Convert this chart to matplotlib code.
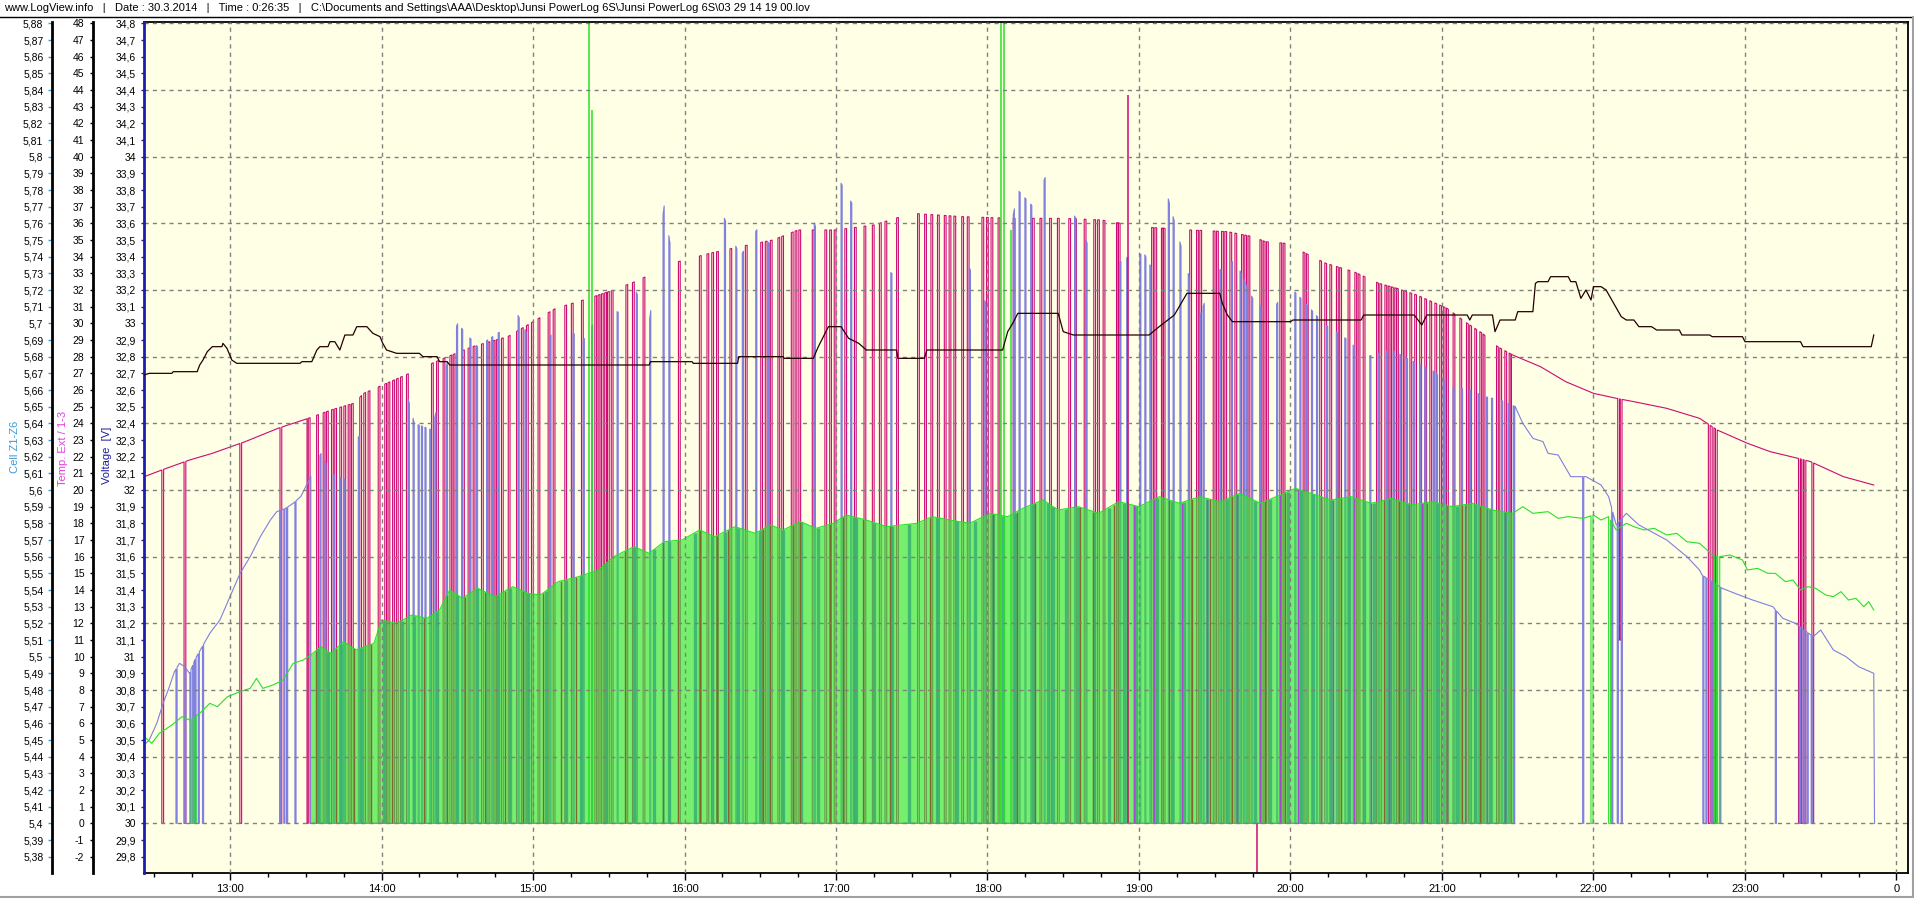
import numpy as np
import matplotlib
matplotlib.use('Agg')
import matplotlib.pyplot as plt
from matplotlib.ticker import MultipleLocator, FuncFormatter
from matplotlib.lines import Line2D

plt.rcParams['font.family'] = ['Liberation Sans', 'DejaVu Sans']

title = ('www.LogView.info   |   Date : 30.3.2014   |   Time : 0:26:35   |   '
         'C:\\Documents and Settings\\AAA\\Desktop\\Junsi PowerLog 6S\\Junsi PowerLog 6S\\03 29 14 19 00.lov')

# all times are minutes after 12:00
# pack voltage [V]
volt = [(26, 32.69), (28, 32.70), (37, 32.70), (37.5, 32.71), (47, 32.71), (48, 32.75), (49.3, 32.78),
        (51, 32.83), (53, 32.86), (56.8, 32.86), (57.2, 32.88), (58.8, 32.85), (60.7, 32.78), (62.7, 32.76),
        (87.7, 32.76), (88.5, 32.77), (92.4, 32.77), (94.4, 32.84), (95.6, 32.86), (98.8, 32.86),
        (99.6, 32.89), (101.5, 32.89), (103.5, 32.84), (105.5, 32.93), (108.7, 32.93), (110.2, 32.98),
        (114.2, 32.98), (116.6, 32.94), (119.4, 32.92), (120.5, 32.88), (122, 32.84), (126, 32.82),
        (135, 32.82), (136.4, 32.80), (142, 32.80), (143, 32.77), (146, 32.77), (147, 32.75), (226, 32.75),
        (226.5, 32.77), (243, 32.77), (243.5, 32.76), (261, 32.76), (261.5, 32.80), (279, 32.80),
        (279.5, 32.79), (291, 32.79), (293, 32.86), (297, 32.98), (302, 32.98), (305, 32.91), (309, 32.88),
        (312, 32.84), (324, 32.84), (324.5, 32.79), (335, 32.79), (336, 32.84), (366, 32.84), (368, 32.95),
        (370, 33.0), (372, 33.06), (388, 33.06), (390, 32.95), (394, 32.93), (424, 32.93), (428, 32.98),
        (434, 33.05), (439, 33.18), (452, 33.18), (453, 33.12), (455, 33.05), (457, 33.01), (480, 33.01),
        (481, 33.02), (508, 33.02), (509, 33.05), (529, 33.05), (532, 32.99), (534, 33.05), (550, 33.05),
        (551, 33.02), (552, 33.05), (560, 33.05), (561, 32.95), (563, 33.02), (569, 33.02), (570, 33.07),
        (576, 33.07), (577, 33.24), (578, 33.25), (582, 33.25), (583, 33.28), (590, 33.28), (591, 33.25),
        (593, 33.25), (595, 33.15), (597, 33.2), (599, 33.14), (600, 33.22), (603, 33.22), (605, 33.2),
        (608, 33.12), (611, 33.04), (613, 33.02), (616, 33.02), (618, 32.98), (623, 32.98), (625, 32.96),
        (634, 32.96), (635, 32.93), (646, 32.93), (647, 32.92), (659, 32.92), (660, 32.89), (682, 32.89),
        (683, 32.86), (710, 32.86), (711, 32.93)]

# Temp. Ext (magenta) [°C]
mag_env = [(26, 20.8), (33, 21.2), (44, 21.8), (53, 22.2), (66, 22.9), (79, 23.7), (85, 24.0), (91, 24.3),
           (100, 24.8), (109, 25.2), (113, 25.8), (125, 26.6), (143, 27.8), (156, 28.6), (170, 29.2),
           (189, 30.9), (200, 31.4), (212, 32.0), (222, 32.6), (235, 33.6), (250, 34.2), (262, 34.6),
           (275, 35.0), (285, 35.6), (300, 35.6), (315, 35.9), (330, 36.6), (350, 36.4), (370, 36.3),
           (390, 36.3), (405, 36.2), (420, 35.8), (440, 35.6), (455, 35.5), (465, 35.2), (470, 34.9),
           (478, 34.8), (486, 34.2), (494, 33.6), (505, 33.1), (515, 32.4), (522, 32.1), (530, 31.7),
           (542, 30.9), (550, 30.0), (556, 29.4), (562, 28.6), (568, 28.1), (579, 27.4), (589, 26.5),
           (600, 25.8), (609, 25.5), (616, 25.3), (629, 24.9), (642, 24.3), (649, 23.6), (661, 22.8),
           (670, 22.3), (681, 21.9), (686, 21.7), (699, 20.8), (711, 20.3)]
mag_span = (90.5, 567.5)
mag_spikes = [91.0, 94.3, 96.9, 98.2, 100.2, 101.5, 103.5, 105.1, 106.8, 108.1, 111.4, 113.0, 114.7, 118.7,
              121.3, 122.6, 124.4, 125.9, 127.5, 129.9, 139.8, 141.8, 144.4, 147.1, 148.4, 152.1, 154.3,
              156.3, 159.6, 162.2, 164.2, 165.5, 167.5, 170.2, 173.5, 175.4, 177.4, 179.4, 182.0, 186.0,
              188.0, 192.6, 195.2, 199.2, 204.5, 205.8, 207.1, 208.4, 209.5, 211.0, 216.8, 219.4, 223.6,
              237.6, 245.9, 248.9, 250.8, 252.7, 258.0, 264.1, 270.2, 272.0, 274.0, 277.0, 278.5, 282.3,
              283.8, 285.3, 290.6, 295.6, 297.5, 299.3, 303.5, 307.3, 311.1, 314.4, 317.2, 319.4, 324.0,
              332.3, 335.1, 337.6, 340.2, 342.9, 344.8, 346.7, 349.8, 352.0, 357.8, 359.6, 361.4, 364.2,
              370.2, 377.8, 380.8, 384.6, 387.7, 392.2, 394.5, 398.3, 402.1, 403.6, 405.8, 411.1, 411.8,
              425.0, 426.3, 428.9, 429.6, 440.1, 442.8, 444.1, 449.4, 450.7, 452.7, 454.0, 456.0, 458.0,
              460.6, 461.9, 463.2, 467.9, 469.2, 470.5, 475.8, 477.1, 485.0, 486.3, 491.6, 493.6, 495.6,
              498.2, 499.5, 502.8, 505.5, 506.8, 508.8, 514.1, 515.4, 517.4, 518.7, 520.0, 521.3, 522.0,
              524.0, 525.3, 527.3, 529.2, 531.2, 533.2, 535.2, 537.2, 539.1, 540.5, 541.8, 544.4, 547.1,
              549.7, 551.0, 553.0, 555.0, 556.3, 561.6, 562.9, 564.9, 566.6]
mag_drops = [33.0, 41.8, 63.9, 79.8, (609.6, 11.0), (610.6, 11.0), 645.5, 647.0, 648.3,
             681.2, 682.3, 683.4, 686.5]

# temp 1 (lavender)
blue_env = [(26, 4.7), (28, 5.0), (31, 6.0), (33.5, 7.2), (36, 8.2), (38, 9.1), (40, 9.6), (42, 9.4), (44, 9.0),
            (46, 9.8), (49, 10.6), (52, 11.4), (56, 12.2), (60, 13.6), (64, 15.0), (68, 16.0), (72, 17.2),
            (76, 18.2), (78.5, 18.7), (82, 18.9), (85, 19.2), (88, 19.6), (91, 20.5),
            (96, 22.2), (100, 21.0), (106, 20.6), (110, 23.0), (120, 25.0), (127, 27.6), (133, 24.0),
            (140, 23.6), (145, 27.0), (150, 30.0), (158, 28.6), (167, 29.5), (174, 30.5), (182, 28.0),
            (190, 30.0), (200, 29.0), (208, 31.0), (215, 30.6), (220, 32.2), (226, 30.0), (232, 37.1),
            (236, 33.0), (245, 31.0), (255, 36.6), (262, 34.0), (269, 35.7), (280, 33.5), (291, 36.2),
            (298, 33.0), (302, 38.4), (307, 37.0), (315, 34.0), (322, 33.0), (335, 32.0), (345, 34.0),
            (352, 33.6), (360, 31.0), (366, 33.0), (372, 38.0), (378, 37.0), (383, 38.8), (388, 35.0),
            (394, 36.6), (405, 33.0), (416, 34.0), (422, 34.2), (426, 33.0), (431, 37.8), (436, 35.0),
            (444, 30.4), (450, 33.0), (458, 33.8), (465, 31.5), (472, 30.5), (479, 32.3), (486, 31.2),
            (493, 30.0), (501, 29.2), (510, 28.0), (520, 28.4), (530, 27.6), (536, 27.2), (544, 26.2),
            (551, 26.0), (557, 25.6), (563, 25.4),
            (569, 25.0), (572, 24.0), (576, 23.1), (580, 22.9), (582, 22.2), (586, 22.1), (591, 20.8),
            (597, 20.8), (603, 20.3), (606, 19.6), (609, 17.9), (613, 18.6), (618, 17.9), (629, 17.0),
            (637, 16.0), (642, 15.2), (643, 14.9), (651, 14.1), (656, 13.8), (663, 13.4), (671, 13.0),
            (675, 12.3), (680, 12.0), (687, 11.2), (690, 11.6), (695, 10.4), (700, 10.0), (705, 9.4),
            (711, 9.0), (711.3, 0.0)]
blue_span = (92.0, 568.8)
blue_spikes = [95.6, 97.6, 100.9, 103.5, 105.1, 110.8, 130.6, 132.5, 134.5, 135.8, 137.2, 139.1, 141.1,
               145.7, 149.7, 151.7, 155.0, 157.6, 161.6, 163.6, 166.2, 174.1, 176.8, 186.7, 195.9, 199.9,
               203.2, 213.3, 220.9, 226.2, 231.5, 233.8, 255.8, 260.3, 262.9, 268.2, 273.2, 291.4, 302.0,
               305.8, 321.7, 352.8, 358.9, 370.2, 372.5, 374.8, 377.1, 382.4, 394.5, 399.0, 412.4, 415.1,
               420.3, 422.3, 424.3, 431.6, 433.5, 436.2, 439.5, 444.1, 445.4, 452.0, 456.6, 460.0, 461.5,
               462.6, 464.6, 467.9, 474.5, 481.7, 483.7, 486.3, 488.3, 490.3, 494.3, 498.2, 501.5, 504.8,
               511.4, 514.7, 518.0, 520.7, 523.3, 525.9, 528.6, 531.2, 533.2, 536.5, 537.8, 540.5, 544.4,
               547.7, 551.0, 554.3, 557.6, 559.6, 563.6, 566.2, 568.2]
blue_drops = [38.6, 42.1, 44.1, 45.2, 46.1, 47.4, 49.1, 79.7, 81.3, 82.4, 85.7,
              595.7, 607.2, 609.4, 611.0, 643.3, 644.5, 646.6, 648.5, 650.0, 672.0, 681.5, 683.0,
              684.6, 686.2]

# temp 2 (green)
green_env = [(26, 5.2), (29, 4.8), (32, 5.4), (37, 5.9), (41, 6.4), (44, 6.2), (48, 6.6), (52, 7.2), (55, 7.0),
             (59, 7.6), (64, 7.9), (68, 8.1), (70.5, 8.7), (73, 8.1), (77, 8.3), (81, 8.6), (85, 9.6),
             (89, 9.8), (92, 10.1), (96, 10.6), (100, 10.2), (105, 10.9), (110, 10.4), (117, 10.8),
             (120, 12.2), (126, 12.0), (132, 12.5), (138, 12.3), (143, 12.8), (147, 14.0), (152, 13.5),
             (158, 14.1), (165, 13.6), (172, 14.2), (178, 13.8), (183, 13.7), (190, 14.5), (198, 14.8),
             (206, 15.2), (212, 16.0), (220, 16.6), (226, 16.2), (232, 16.9), (239, 17.0), (246, 17.6),
             (252, 17.2), (260, 17.8), (268, 17.4), (274, 17.9), (279, 17.6), (286, 18.1), (292, 17.7),
             (299, 18.0), (304, 18.5), (312, 18.2), (320, 17.8), (332, 18.0), (338, 18.4), (345, 18.2),
             (353, 18.0), (361, 18.6), (368, 18.4), (374, 18.9), (382, 19.4), (388, 18.8), (396, 19.0),
             (404, 18.6), (412, 19.3), (420, 19.0), (428, 19.6), (436, 19.2), (444, 19.6), (452, 19.3),
             (460, 19.8), (468, 19.2), (476, 19.7), (482, 20.1), (488, 19.8), (496, 19.4), (504, 19.6),
             (512, 19.2), (520, 19.5), (528, 19.1), (536, 19.3), (544, 19.0), (552, 19.2), (560, 18.8),
             (568, 18.6), (572, 19.0), (576, 18.6), (582, 18.7), (586, 18.3), (590, 18.4), (596, 18.3),
             (600, 18.5), (603, 18.2), (606, 18.4), (609, 17.6), (613, 18.0), (616, 17.8), (620, 17.6),
             (624, 17.7), (629, 17.3), (633, 17.4), (637, 16.9), (642, 16.8), (645, 16.4), (647, 16.1),
             (650, 16.0), (654, 16.1), (659, 15.8), (661, 15.2), (665, 15.3), (669, 15.0), (672, 15.0),
             (676, 14.5), (679, 14.6), (682, 14.0), (685, 14.2), (688, 14.1), (692, 13.7), (695, 13.6),
             (698, 13.9), (701, 13.4), (704, 13.5), (707, 13.0), (709, 13.3), (711, 12.8)]
green_span = (92.0, 568.0)
green_drops = [44.6, 45.8, 599.0, 606.0, 648.0, 649.2]
green_spikes = [(202.2, 60.0), (203.2, 42.8), (365.5, 60.0), (366.5, 60.0), (369.5, 35.6)]

# other channels, only seen as short readings inside the glitch span
teal_t = [95, 99, 104, 112, 121, 128, 133, 142, 150, 158, 166, 171, 178, 185, 193, 199, 209, 220, 228, 234,
          244, 251, 256, 261, 270, 279, 286, 293, 307, 308, 315, 322, 329, 340, 348, 355, 362, 366, 371, 378,
          384, 386, 391, 396, 402, 408, 414, 419, 427, 433, 438, 447, 455, 459, 466, 472, 479, 484, 489, 496,
          503, 509, 513, 519, 526, 532, 538, 546, 553, 559, 565]
brown_t = [94, 102, 109, 116, 124, 137, 146, 153, 161, 169, 176, 184, 191, 197, 216.4, 231.6, 237.5, 246.1,
           252.7, 257.3, 271.2, 273.8, 283.1, 285.7, 297.6, 302.9, 310.8, 321.3, 337.2, 362.3, 371.5, 378.8,
           396.6, 401.9, 410, 418, 432, 441, 448, 457, 470, 478, 492, 500, 517, 523, 534, 548, 555]
purple_t = [418, 426, 437, 447, 459, 468, 476, 483, 492, 497, 505, 512, 519, 527, 532, 542, 549, 558, 565]
mag_special = [(415.7, 43.7), (466.8, -4.0)]

BG = '#FFFFE6'
C_MAG, C_BLUE, C_GREEN = '#CC0A72', '#7F7FE0', '#28E028'
C_TEAL, C_BROWN, C_PURPLE, C_VOLT = '#3CB371', '#7E6A30', '#A848D0', '#220000'


def hrs(m):
    return 12 + np.asarray(m, float) / 60.0


def build(env, drops=(), span=None, spikes=(), wd=0.5, ws=0.5):
    te = np.array([p[0] for p in env], float)
    ve = np.array([p[1] for p in env], float)
    f = lambda t: float(np.interp(t, te, ve))
    groups = []
    a, b = span if span else (np.inf, np.inf)
    for t, v in zip(te, ve):
        if not (a <= t <= b):
            groups.append([(t, v)])
    if span:
        groups.append([(a, f(a)), (a, 0.0)])
        for s in spikes:
            if a < s < b - ws:
                groups.append([(s, 0.0), (s, f(s)), (s + ws, f(s + ws)), (s + ws, 0.0)])
        groups.append([(b, 0.0), (b, f(b))])
    for d in drops:
        t0, low = d if isinstance(d, tuple) else (d, 0.0)
        groups.append([(t0, f(t0)), (t0, low), (t0 + wd, low), (t0 + wd, f(t0 + wd))])
    groups.sort(key=lambda g: g[0][0])
    pts = [p for g in groups for p in g]
    return hrs([p[0] for p in pts]), np.array([p[1] for p in pts])


def env_at(env, t):
    return np.interp(t, [p[0] for p in env], [p[1] for p in env])


def comma(v, dec):
    if abs(v) < 1e-9:
        v = 0.0
    s = f'{v:.{dec}f}'
    if '.' in s:
        s = s.rstrip('0').rstrip('.')
    return s.replace('.', ',')


W, H = 1914, 898
L, R, T, B = 144, 1908, 22, 873
V_LO, V_HI = 29.702, 34.808

fig = plt.figure(figsize=(W / 100, H / 100), dpi=100)
ax = fig.add_axes([L / W, 1 - B / H, (R - L) / W, (B - T) / H])
ax.set_facecolor(BG)
ax_c = ax.twinx()
ax_v = ax.twinx()

ax.set_xlim(12.4323, 24.076)
ax.set_ylim((V_LO - 30) * 10, (V_HI - 30) * 10)
ax_v.set_ylim(V_LO, V_HI)
ax_c.set_ylim(5.4 + (V_LO - 30) * 0.1, 5.4 + (V_HI - 30) * 0.1)

x, y = build(mag_env, mag_drops, mag_span, mag_spikes, wd=0.7, ws=0.7)
ax.plot(x, y, color=C_MAG, lw=0.8, zorder=1.7)
x, y = build(blue_env, blue_drops, blue_span, blue_spikes, wd=0.45, ws=0.45)
ax.plot(x, y, color=C_BLUE, lw=0.8, zorder=1.8)

# glitch region of temp 2: dense green band
gs = [p for p in green_env if green_span[0] <= p[0] <= green_span[1]]
ax.fill_between(hrs([p[0] for p in gs]), 0, [p[1] for p in gs], color='#30E830', alpha=0.66, lw=0,
                zorder=1.85)

ax.vlines(hrs(teal_t), 0, env_at(green_env, teal_t), color=C_TEAL, lw=2.4, alpha=0.9, zorder=1.9)
ax.vlines(hrs(brown_t), 0, env_at(green_env, brown_t), color=C_BROWN, lw=1.0, zorder=1.95)
ax.vlines(hrs(purple_t), 0, env_at(green_env, purple_t), color=C_PURPLE, lw=1.0, zorder=1.95)

x, y = build(green_env, green_drops, wd=0.8)
ax.plot(x, y, color=C_GREEN, lw=0.8, zorder=2.05)
ax.vlines(hrs([s[0] for s in green_spikes]), 0, [s[1] for s in green_spikes], color=C_GREEN, lw=1.1,
          zorder=2.1)
ax.vlines(hrs([s[0] for s in mag_special]), 0, [s[1] for s in mag_special], color=C_MAG, lw=1.1, zorder=2.1)

ax_v.plot(hrs([p[0] for p in volt]), [p[1] for p in volt], color=C_VOLT, lw=0.9, zorder=3)

# grid on top of the data
ax.set_axisbelow(False)
ax.xaxis.set_major_locator(MultipleLocator(1))
ax.xaxis.set_minor_locator(MultipleLocator(0.25))
ax.xaxis.set_major_formatter(FuncFormatter(lambda v, p: '0' if round(v) % 24 == 0 else f'{int(round(v))}:00'))
ax.yaxis.set_major_locator(MultipleLocator(1))
ax.yaxis.set_minor_locator(MultipleLocator(4))
ax.yaxis.remove_overlapping_locs = False
ax.yaxis.set_major_formatter(FuncFormatter(lambda v, p: comma(v, 0)))
ax.grid(axis='x', which='major', color='#808080', ls=(0, (3, 3)), lw=1)
ax.grid(axis='y', which='minor', color='#808080', ls=(0, (3, 3)), lw=1)
ax.tick_params(axis='x', which='major', length=5, width=1, labelsize=8, pad=3)
ax.tick_params(axis='x', which='minor', length=3, width=1)
ax.tick_params(axis='y', which='major', length=2.5, width=1, labelsize=7.5, pad=3.5)
ax.tick_params(axis='y', which='minor', length=0)

ax_v.yaxis.tick_left()
ax_v.yaxis.set_major_locator(MultipleLocator(0.1))
ax_v.yaxis.set_major_formatter(FuncFormatter(lambda v, p: comma(v, 1)))
ax_v.tick_params(axis='y', length=2.5, width=1, color='#1C1C9C', labelsize=7.5, pad=3.5)

ax_c.yaxis.tick_left()
ax_c.yaxis.set_major_locator(MultipleLocator(0.01))
ax_c.yaxis.set_major_formatter(FuncFormatter(lambda v, p: comma(v, 2)))
ax_c.tick_params(axis='y', length=3, width=1, color='#3C9AD8', labelsize=7.5, pad=3)

for a in (ax, ax_v, ax_c):
    for s in a.spines.values():
        s.set_visible(False)
for s in ('top', 'right', 'bottom'):
    ax.spines[s].set_visible(True)
    ax.spines[s].set_color('black')
    ax.spines[s].set_linewidth(1.3)
ax.spines['left'].set_visible(True)
ax.spines['left'].set_position(('axes', (92.7 - L) / (R - L)))
ax.spines['left'].set_linewidth(2)
ax_c.spines['left'].set_visible(True)
ax_c.spines['left'].set_position(('axes', (51.7 - L) / (R - L)))
ax_c.spines['left'].set_linewidth(2)
ax_v.spines['left'].set_visible(True)
ax_v.spines['left'].set_color('#1C1CB0')
ax_v.spines['left'].set_linewidth(2)

fig.text(15 / W, 1 - 447 / H, 'Cell Z1-Z6', rotation=90, color='#3C9AD8', fontsize=8, ha='center', va='center')
fig.text(63 / W, 1 - 448 / H, 'Temp. Ext / 1-3', rotation=90, color='#E040E0', fontsize=8, ha='center',
         va='center')
fig.text(107 / W, 1 - 455 / H, 'Voltage  [V]', rotation=90, color='#1C1C9C', fontsize=8, ha='center',
         va='center')
fig.text(4 / W, 1 - 8 / H, title, fontsize=8, ha='left', va='center')

fig.add_artist(Line2D([0, 1], [1 - 16.5 / H] * 2, color='black', lw=1))
fig.add_artist(Line2D([1912.5 / W] * 2, [1 - 16.5 / H, 1 - 896.5 / H], color='#A0A0A0', lw=1.5))
fig.add_artist(Line2D([0, 1912.5 / W], [1 - 896.5 / H] * 2, color='#A0A0A0', lw=1.5))

fig.savefig('out.png', dpi=100, facecolor='white')
